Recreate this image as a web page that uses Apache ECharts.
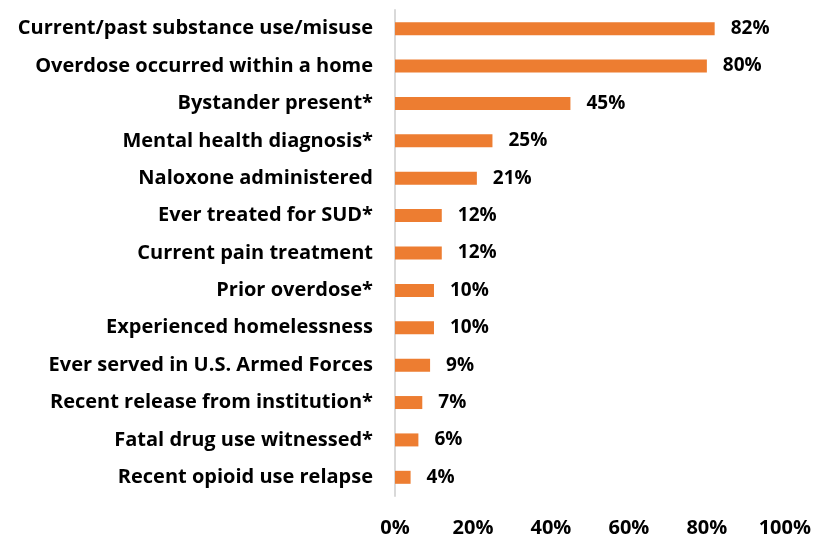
<!DOCTYPE html>
<html>
<head>
<meta charset="utf-8">
<script src="https://cdn.jsdelivr.net/npm/echarts@6/dist/echarts.min.js"></script>
<style>
  html, body { margin: 0; padding: 0; background: #fff; }
  #chart { width: 814px; height: 542px; }
</style>
</head>
<body>
<div id="chart"></div>
<script>
const categories = [
  "Current/past substance use/misuse",
  "Overdose occurred within a home",
  "Bystander present*",
  "Mental health diagnosis*",
  "Naloxone administered",
  "Ever treated for SUD*",
  "Current pain treatment",
  "Prior overdose*",
  "Experienced homelessness",
  "Ever served in U.S. Armed Forces",
  "Recent release from institution*",
  "Fatal drug use witnessed*",
  "Recent opioid use relapse"
];
const values = [82, 80, 45, 25, 21, 12, 12, 10, 10, 9, 7, 6, 4];

const chart = echarts.init(document.getElementById("chart"));
const font = "'Open Sans', sans-serif";

chart.setOption({
  animation: false,
  grid: { left: 395, right: 29, top: 10, bottom: 46 },
  xAxis: {
    type: "value",
    min: 0,
    max: 100,
    interval: 20,
    axisLine: { show: false },
    axisTick: { show: false },
    splitLine: { show: false },
    axisLabel: {
      formatter: "{value}%",
      margin: 22,
      color: "#000",
      fontWeight: "bold",
      fontSize: 20,
      fontFamily: font
    }
  },
  yAxis: {
    type: "category",
    data: categories,
    inverse: true,
    axisLine: { show: true, lineStyle: { color: "#d9d9d9", width: 2 } },
    axisTick: { show: false },
    axisLabel: {
      margin: 22,
      color: "#000",
      fontWeight: "bold",
      fontSize: 20,
      fontFamily: font
    }
  },
  series: [{
    type: "bar",
    data: values,
    barWidth: 13,
    itemStyle: { color: "#ED7D31" },
    label: {
      show: true,
      position: "right",
      distance: 16,
      formatter: "{c}%",
      color: "#000",
      fontWeight: "bold",
      fontSize: 19,
      fontFamily: font
    }
  }]
});
</script>
</body>
</html>
